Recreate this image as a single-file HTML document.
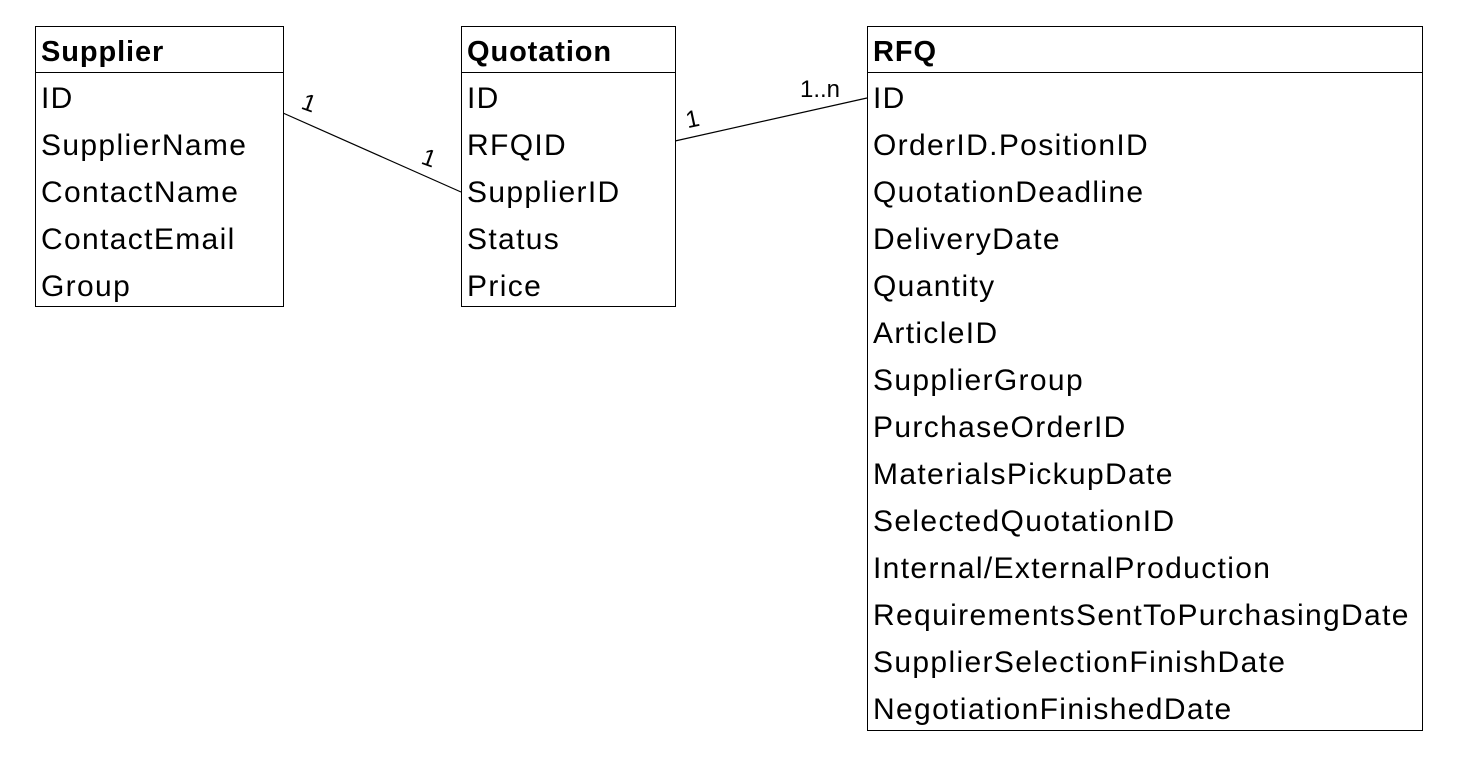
<!DOCTYPE html>
<html><head><meta charset="utf-8"><style>
body{margin:0;width:1459px;height:762px;background:#fff;position:relative;overflow:hidden;font-family:"Liberation Sans",Arial,sans-serif;}
.box{position:absolute;border:1px solid #000;box-sizing:border-box;background:#fff}
.hd{height:46px;border-bottom:1px solid #000;font-weight:bold;font-size:29px;line-height:50px;padding-left:5px;box-sizing:border-box;letter-spacing:0.9px}
.r{font-size:30px;height:47px;line-height:51px;padding-left:5px;white-space:nowrap;letter-spacing:1.35px}
.lbl{position:absolute;font-size:24px;}
</style></head><body>
<svg width="1459" height="762" style="position:absolute;left:0;top:0">
<line x1="283" y1="113" x2="461" y2="192" stroke="#000" stroke-width="1.2"/>
<line x1="675" y1="141" x2="867" y2="98" stroke="#000" stroke-width="1.2"/>
</svg>
<div class="box" style="left:35px;top:26px;width:249px;height:281px">
<div class="hd">Supplier</div>
<div class="r">ID</div><div class="r">SupplierName</div><div class="r">ContactName</div><div class="r">ContactEmail</div><div class="r">Group</div>
</div>
<div class="box" style="left:461px;top:26px;width:215px;height:281px">
<div class="hd">Quotation</div>
<div class="r">ID</div><div class="r">RFQID</div><div class="r">SupplierID</div><div class="r">Status</div><div class="r">Price</div>
</div>
<div class="box" style="left:867px;top:26px;width:556px;height:705px">
<div class="hd">RFQ</div>
<div class="r">ID</div><div class="r">OrderID.PositionID</div><div class="r">QuotationDeadline</div><div class="r">DeliveryDate</div><div class="r">Quantity</div><div class="r">ArticleID</div><div class="r">SupplierGroup</div><div class="r">PurchaseOrderID</div><div class="r">MaterialsPickupDate</div><div class="r">SelectedQuotationID</div><div class="r">Internal/ExternalProduction</div><div class="r">RequirementsSentToPurchasingDate</div><div class="r">SupplierSelectionFinishDate</div><div class="r">NegotiationFinishedDate</div>
</div>
<div class="lbl" style="left:302px;top:90px;transform:rotate(20deg)">1</div>
<div class="lbl" style="left:422px;top:145px;transform:rotate(20deg)">1</div>
<div class="lbl" style="left:686px;top:106px;transform:rotate(-12deg)">1</div>
<div class="lbl" style="left:800px;top:76px">1..n</div>
</body></html>
